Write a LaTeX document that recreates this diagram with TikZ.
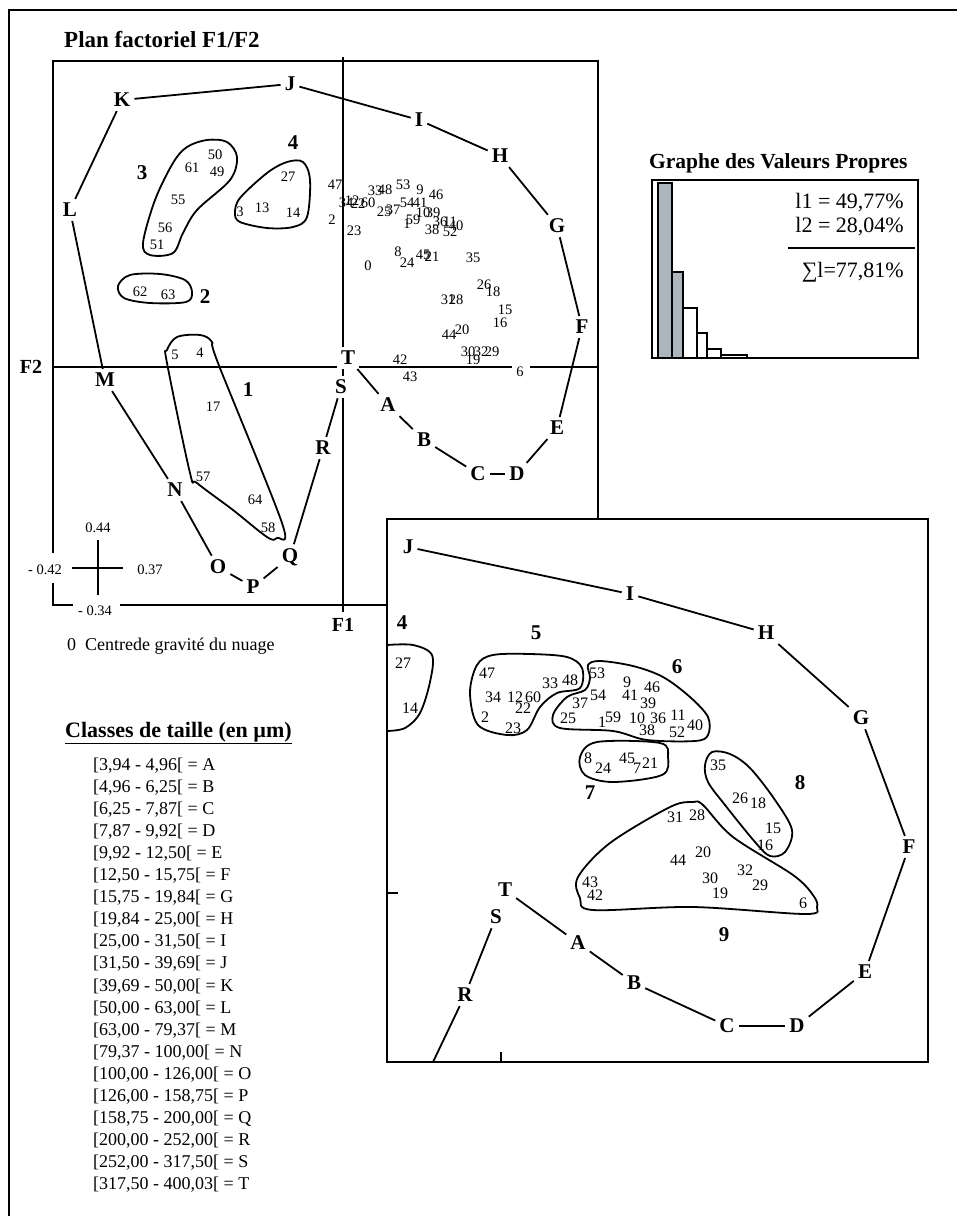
\documentclass[tikz,border=0pt]{standalone}
\usepackage{fontspec}
\setmainfont{Liberation Serif}
\usetikzlibrary{positioning}

\tikzset{
  cls/.style={font=\bfseries\fontsize{21}{21}\selectfont, inner sep=4pt},
  onaxis/.style={cls, fill=white},
  grp/.style={font=\bfseries\fontsize{21}{21}\selectfont, inner sep=0pt},
  num/.style={font=\fontsize{14.5}{15}\selectfont, inner sep=0pt},
  numlo/.style={font=\fontsize{16}{16}\selectfont, inner sep=0pt},
  axlabel/.style={font=\bfseries\fontsize{20}{20}\selectfont},
  sclabel/.style={font=\fontsize{14.5}{14.5}\selectfont, inner sep=0pt},
  link/.style={line width=1.8pt},
  clusterline/.style={line width=1.8pt, line join=round},
  boxline/.style={line width=1.4pt},
  leg/.style={font=\fontsize{18}{18}\selectfont, anchor=base west, inner sep=0pt}
}
\definecolor{barfill}{RGB}{172,182,188}

\begin{document}
\begin{tikzpicture}[x=1pt, y=-1pt]
\useasboundingbox (0,0) rectangle (957,1216);
% cadre
\draw[boxline] (9,1216) -- (9,10) -- (957,10);

\node[anchor=base west, inner sep=0pt, font=\bfseries\fontsize{23}{23}\selectfont] (title) at (64,47) {Plan factoriel F1/F2};

% plan F1/F2
\draw[boxline] (53,553) -- (53,61) -- (598,61) -- (598,605) -- (120,605);
\draw[boxline] (53,583) -- (53,605) -- (73,605);
\draw[boxline] (343,57) -- (343,612);
\draw[boxline] (53,367) -- (512,367) (530,367) -- (598,367);
\node[axlabel] (F2) at (31,367) {F2};
\node[axlabel] (F1) at (343,625) {F1};

% echelle
\draw[boxline] (98,540) -- (98,595) (72,568) -- (123,568);
\node[sclabel] (s44) at (98,528) {0.44};
\node[sclabel] (s42) at (45,570) {- 0.42};
\node[sclabel] (s37) at (150,570) {0.37};
\node[sclabel] (s34) at (95,611) {- 0.34};

% classes de taille
\foreach \n/\x/\y in {K/122/100, J/290/84, I/419/120, H/500/156, G/557/226,
    F/582/327, E/557/428, D/517/474, C/478/474, B/424/440, A/388/405,
    R/323/448, Q/290/557, P/253/587, O/218/567, N/175/490, M/105/380, L/70/210}
  \node[cls] (u\n) at (\x,\y) {\n};
\node[onaxis] (uT) at (348,358) {T};
\node[onaxis] (uS) at (341,387) {S};
\foreach \a/\b in {K/J, J/I, I/H, H/G, G/F, F/E, E/D, D/C, C/B, B/A, A/T,
    S/R, R/Q, Q/P, P/O, O/N, N/M, M/L, L/K}
  \draw[link] (u\a) -- (u\b);

% individus
\foreach \t/\x/\y in {47/335/185, 34/346/203, 12/352/201, 22/358/204, 60/368/203,
    33/375/191, 48/385/190, 53/403/185, 9/420/190, 46/436/195, 25/384/212,
    37/393/210, 54/407/203, 41/420/203, 1/407/224, 59/413/220, 10/423/213,
    39/433/213, 36/440/222, 11/450/222, 40/456/226, 38/432/230, 52/450/232,
    2/332/220, 23/354/231, 0/368/266, 8/398/252, 24/407/263, 45/423/255,
    7/427/257, 21/432/257, 35/473/258, 26/484/285, 18/493/292, 31/448/300,
    28/456/300, 15/505/310, 16/500/323, 44/449/335, 20/462/330, 30/468/352,
    32/481/352, 29/492/352, 19/473/360, 42/400/360, 43/410/377, 6/520/372,
    27/288/177, 3/240/212, 13/262/208, 14/293/213, 50/215/155, 61/192/168,
    49/217/172, 55/178/200, 56/165/228, 51/157/245, 62/140/292, 63/168/295,
    5/175/355, 4/200/353, 17/213/407, 57/203/477, 64/255/500, 58/268/528}
  \node[num] (u\t) at (\x,\y) {\t};

% groupes
\draw[clusterline] plot[smooth cycle, tension=0.55] coordinates {(167,350) (177,337) (200,335) (212,342) (218,363) (282,523) (277,538) (267,537) (233,510) (197,483) (190,473) (167,363)};
\draw[clusterline] plot[smooth cycle, tension=0.55] coordinates {(118,286) (130,275) (160,274) (185,280) (192,292) (186,302) (150,303) (124,298)};
\draw[clusterline] plot[smooth cycle, tension=0.55] coordinates {(187,147) (207,140) (227,142) (237,157) (230,180) (197,210) (183,233) (173,253) (150,255) (143,243) (155,200) (173,163)};
\draw[clusterline] plot[smooth cycle, tension=0.55] coordinates {(235,213) (240,198) (267,173) (287,162) (303,162) (310,180) (307,217) (293,227) (267,228) (240,222)};
\node[grp] (g1) at (248,390) {1};
\node[grp] (g2) at (205,297) {2};
\node[grp] (g3) at (142,173) {3};
\node[grp] (g4) at (293,143) {4};

\node[anchor=base west, inner sep=0pt, font=\fontsize{18}{18}\selectfont] (centre) at (67,650) {0\hspace{9pt}Centrede gravit\'e du nuage};

% valeurs propres
\node[anchor=base west, inner sep=0pt, font=\bfseries\fontsize{21.5}{21.5}\selectfont] (vptitle) at (649,168) {Graphe des Valeurs Propres};
\draw[boxline] (652,180) rectangle (918,358);
\foreach \xa/\xb/\top/\col in {658/672/183/barfill, 672/683/272/barfill, 683/697/308/white,
    697/707/333/white, 707/721/349/white, 721/747/355/white}
  \draw[line width=1.2pt, fill=\col] (\xa,358) rectangle (\xb,\top);
\node[anchor=base east, inner sep=0pt, font=\fontsize{22}{22}\selectfont] (l1) at (904,208) {l1 = 49,77\%};
\node[anchor=base east, inner sep=0pt, font=\fontsize{22}{22}\selectfont] (l2) at (904,232) {l2 = 28,04\%};
\draw[line width=1.4pt] (788,248) -- (915,248);
\node[anchor=base east, inner sep=0pt, font=\fontsize{22}{22}\selectfont] (lsum) at (904,277) {∑l=77,81\%};

% legende des classes
\node[anchor=base west, inner sep=0pt, font=\bfseries\fontsize{22}{22}\selectfont] (legtitle) at (65,737) {\underline{Classes de taille (en µm)}};
\foreach \rng/\cl [count=\i from 0] in {{3,94 - 4,96}/A, {4,96 - 6,25}/B, {6,25 - 7,87}/C,
    {7,87 - 9,92}/D, {9,92 - 12,50}/E, {12,50 - 15,75}/F, {15,75 - 19,84}/G,
    {19,84 - 25,00}/H, {25,00 - 31,50}/I, {31,50 - 39,69}/J, {39,69 - 50,00}/K,
    {50,00 - 63,00}/L, {63,00 - 79,37}/M, {79,37 - 100,00}/N, {100,00 - 126,00}/O,
    {126,00 - 158,75}/P, {158,75 - 200,00}/Q, {200,00 - 252,00}/R,
    {252,00 - 317,50}/S, {317,50 - 400,03}/T}
  \node[leg] (leg\cl) at (93,770+22.1*\i) {[\rng[ = \cl};

% zoom du nuage
\draw[boxline, fill=white] (387,519) rectangle (928,1062);
\draw[boxline] (387,893) -- (398,893) (501,1062) -- (501,1052);
\foreach \n/\x/\y in {J/408/547, I/630/594, H/766/633, G/861/718, F/909/847,
    E/865/972, D/797/1026, C/727/1026, B/634/983, A/578/943, T/505/890,
    S/496/917, R/465/995}
  \node[cls] (l\n) at (\x,\y) {\n};
\coordinate (lEnd) at (433,1062);
\foreach \a/\b in {J/I, I/H, H/G, G/F, F/E, E/D, D/C, C/B, B/A, A/T, S/R}
  \draw[link] (l\a) -- (l\b);
\draw[link] (lR) -- (lEnd);

\foreach \t/\x/\y in {27/403/663, 14/410/708,
    47/487/673, 34/493/697, 12/515/697, 60/533/697, 22/523/708, 33/550/683,
    48/570/680, 2/485/717, 23/513/728,
    53/597/673, 37/580/703, 54/598/695, 25/568/718, 9/627/682, 46/652/687,
    41/630/695, 39/648/703, 1/602/722, 59/613/717, 10/637/718, 36/658/718,
    11/678/715, 38/647/730, 52/677/732, 40/695/725,
    8/588/758, 24/603/768, 45/627/758, 7/637/768, 21/650/763,
    35/718/765, 26/740/798, 18/758/803, 15/773/828, 16/765/845,
    31/675/817, 28/697/815, 44/678/860, 20/703/852, 30/710/878, 19/720/893,
    32/745/870, 29/760/885, 6/803/903, 43/590/882, 42/595/895}
  \node[numlo] (l\t) at (\x,\y) {\t};

\draw[clusterline] plot[smooth, tension=0.55] coordinates {(387,645) (413,645) (432,655) (430,682) (420,713) (405,728) (387,731)};
\draw[clusterline] plot[smooth cycle, tension=0.55] coordinates {(470,693) (477,665) (493,655) (530,654) (567,657) (582,668) (580,688) (557,693) (540,707) (527,730) (507,735) (478,725)};
\draw[clusterline] plot[smooth cycle, tension=0.55] coordinates {(588,665) (600,661) (633,666) (663,677) (690,697) (708,717) (708,735) (695,741) (647,740) (613,731) (560,728) (553,715) (567,697) (585,690) (590,678)};
\draw[clusterline] plot[smooth cycle, tension=0.55] coordinates {(580,757) (597,742) (660,743) (668,757) (662,775) (613,782) (585,775)};
\draw[clusterline] plot[smooth cycle, tension=0.55] coordinates {(705,765) (712,752) (730,754) (750,768) (775,800) (792,830) (785,852) (770,856) (755,842) (725,805) (708,782)};
\draw[clusterline] plot[smooth cycle, tension=0.55] coordinates {(693,802) (703,805) (733,837) (793,875) (813,895) (817,907) (805,914) (693,907) (593,910) (580,898) (578,877) (610,843) (670,807)};
\node[grp] (h4) at (402,623) {4};
\node[grp] (h5) at (536,633) {5};
\node[grp] (h6) at (677,667) {6};
\node[grp] (h7) at (590,793) {7};
\node[grp] (h8) at (800,783) {8};
\node[grp] (h9) at (724,935) {9};
\end{tikzpicture}
\end{document}
